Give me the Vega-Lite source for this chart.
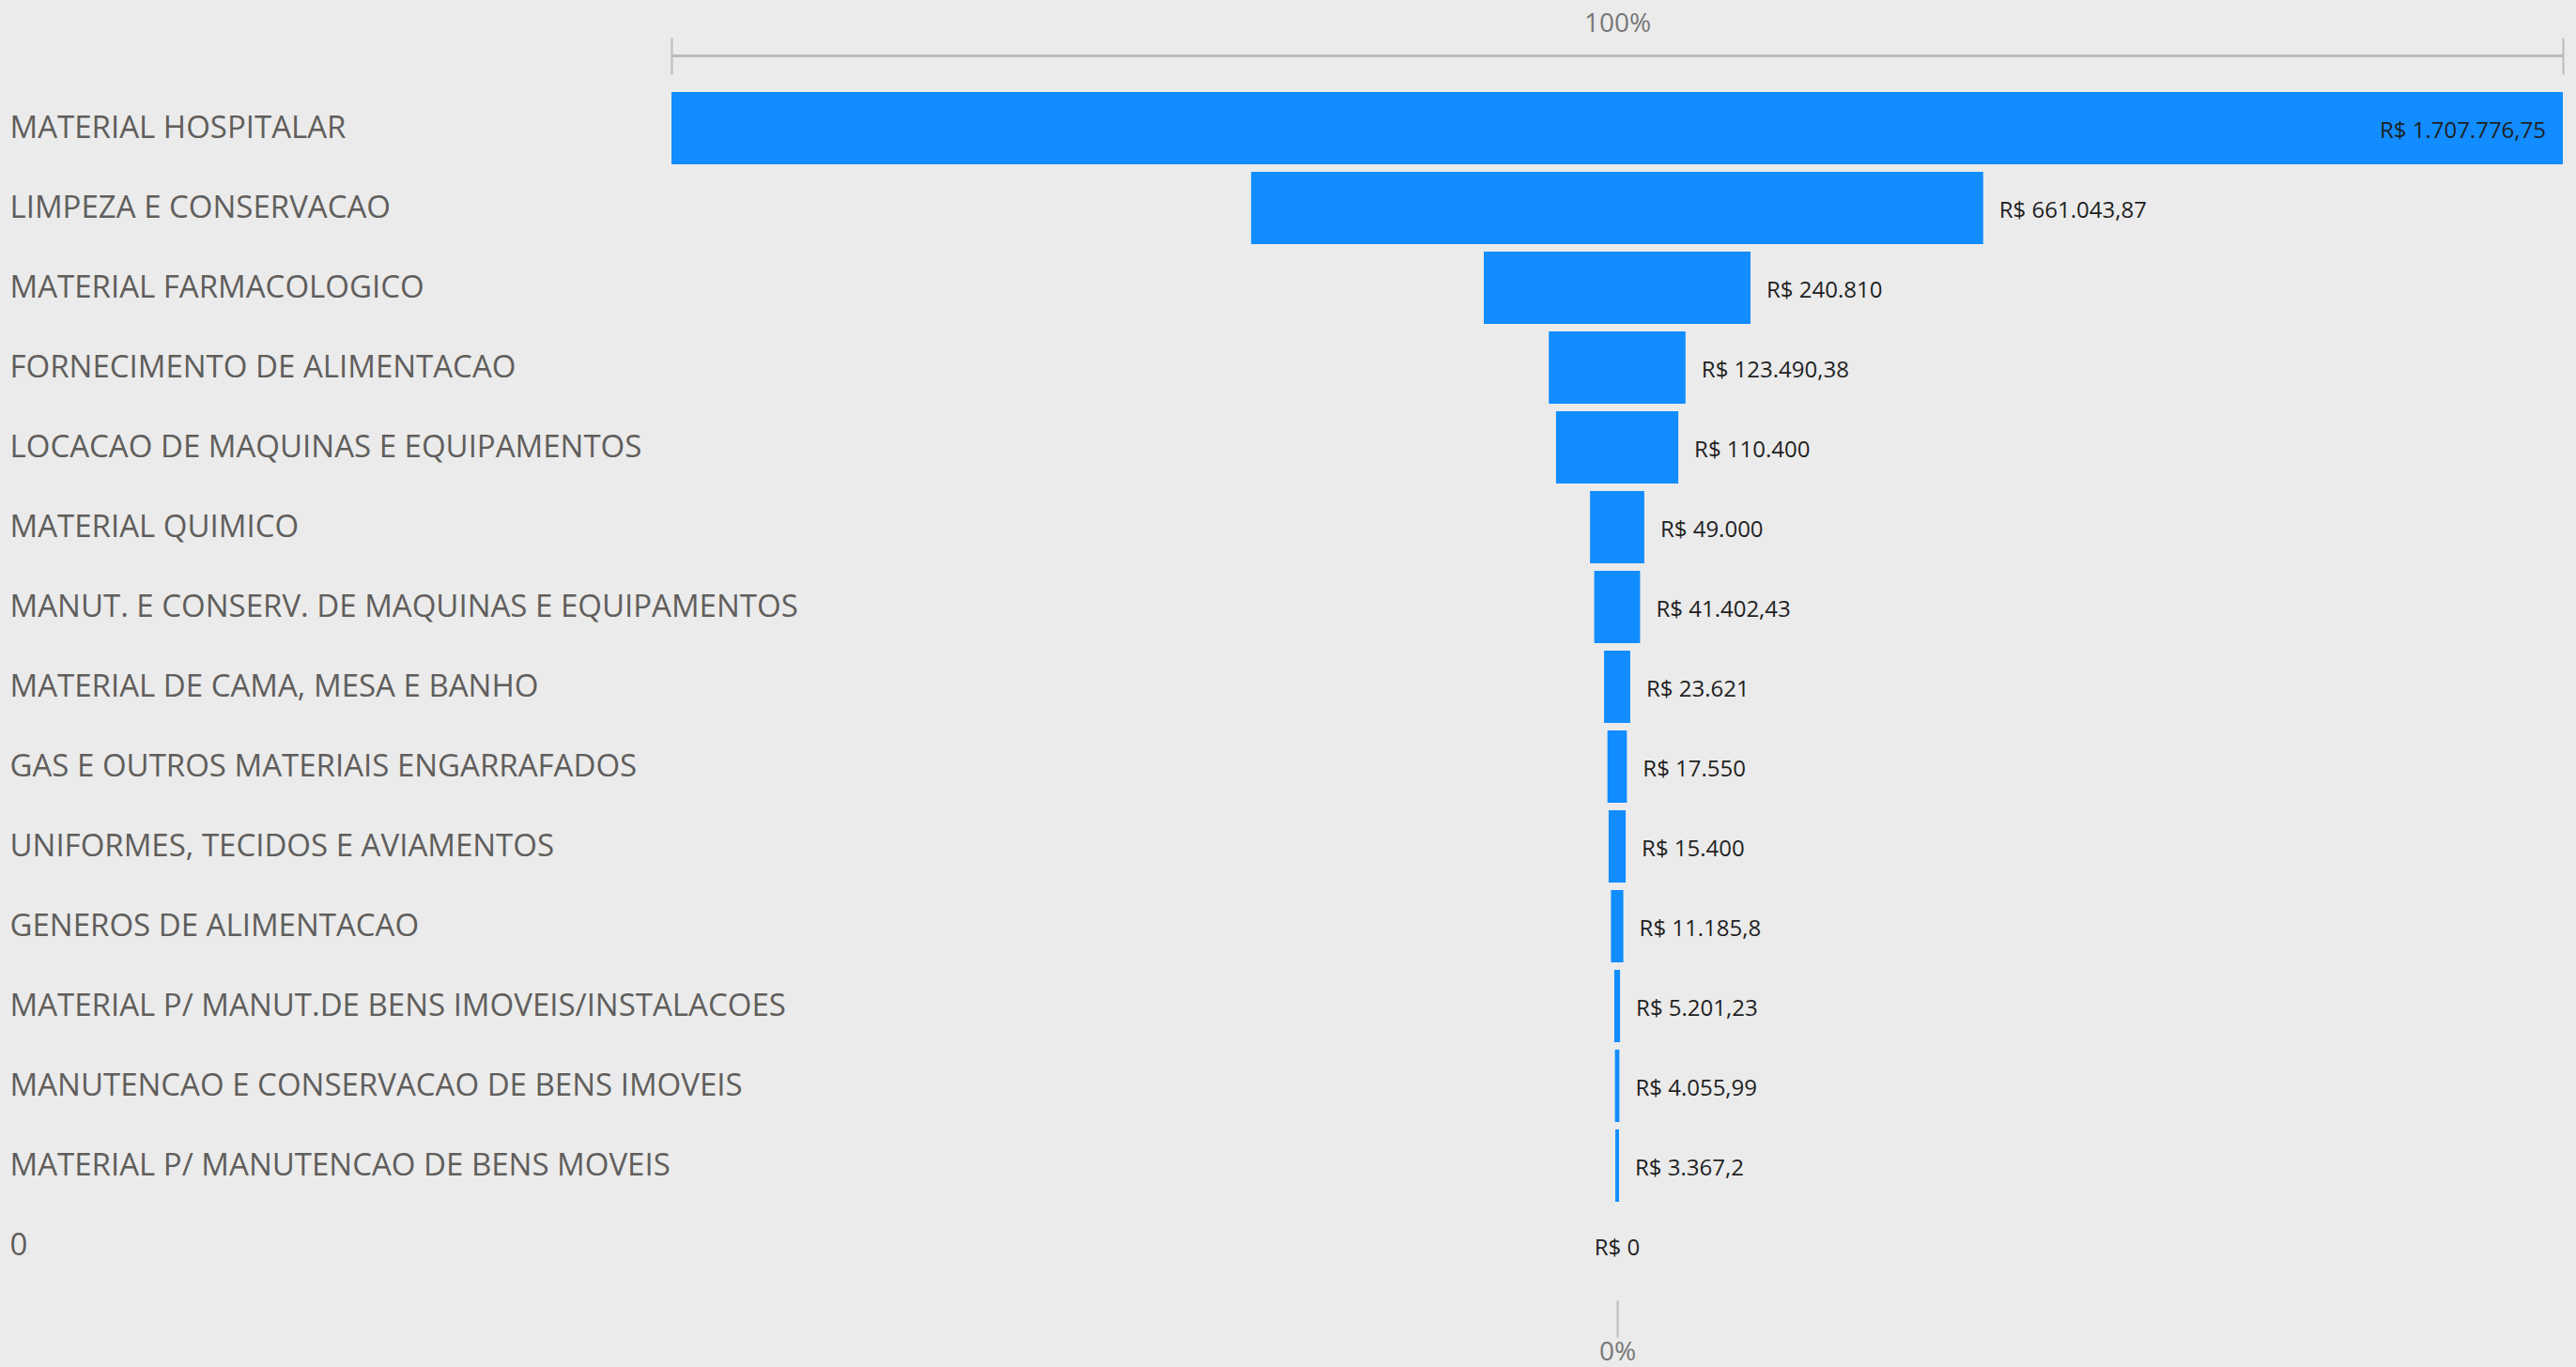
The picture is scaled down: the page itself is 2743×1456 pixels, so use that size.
{
  "$schema": "https://vega.github.io/schema/vega-lite/v6.json",
  "autosize": "none",
  "width": 2014,
  "height": 1275,
  "padding": {"left": 715, "top": 94, "right": 14, "bottom": 87},
  "background": "#ebebeb",
  "config": {"view": {"stroke": null}, "font": "Open Sans"},
  "data": {
    "values": [
      {"categoria": "MATERIAL HOSPITALAR", "valor": 1707776.75, "rotulo": "R$ 1.707.776,75"},
      {"categoria": "LIMPEZA E CONSERVACAO", "valor": 661043.87, "rotulo": "R$ 661.043,87"},
      {"categoria": "MATERIAL FARMACOLOGICO", "valor": 240810, "rotulo": "R$ 240.810"},
      {"categoria": "FORNECIMENTO DE ALIMENTACAO", "valor": 123490.38, "rotulo": "R$ 123.490,38"},
      {"categoria": "LOCACAO DE MAQUINAS E EQUIPAMENTOS", "valor": 110400, "rotulo": "R$ 110.400"},
      {"categoria": "MATERIAL QUIMICO", "valor": 49000, "rotulo": "R$ 49.000"},
      {"categoria": "MANUT. E CONSERV. DE MAQUINAS E EQUIPAMENTOS", "valor": 41402.43, "rotulo": "R$ 41.402,43"},
      {"categoria": "MATERIAL DE CAMA, MESA E BANHO", "valor": 23621, "rotulo": "R$ 23.621"},
      {"categoria": "GAS E OUTROS MATERIAIS ENGARRAFADOS", "valor": 17550, "rotulo": "R$ 17.550"},
      {"categoria": "UNIFORMES, TECIDOS E AVIAMENTOS", "valor": 15400, "rotulo": "R$ 15.400"},
      {"categoria": "GENEROS DE ALIMENTACAO", "valor": 11185.8, "rotulo": "R$ 11.185,8"},
      {"categoria": "MATERIAL P/ MANUT.DE BENS IMOVEIS/INSTALACOES", "valor": 5201.23, "rotulo": "R$ 5.201,23"},
      {"categoria": "MANUTENCAO E CONSERVACAO DE BENS IMOVEIS", "valor": 4055.99, "rotulo": "R$ 4.055,99"},
      {"categoria": "MATERIAL P/ MANUTENCAO DE BENS MOVEIS", "valor": 3367.2, "rotulo": "R$ 3.367,2"},
      {"categoria": "0", "valor": 0, "rotulo": "R$ 0"}
    ]
  },
  "encoding": {
    "y": {
      "field": "categoria",
      "type": "nominal",
      "sort": null,
      "scale": {"paddingInner": 0.094, "paddingOuter": 0.047},
      "axis": {
        "title": null,
        "ticks": false,
        "domain": false,
        "labelAlign": "left",
        "labelBaseline": "middle",
        "labelPadding": 705,
        "labelFontSize": 33,
        "labelColor": "#605e5c",
        "labelLimit": 0,
        "labelFont": "Open Sans"
      }
    }
  },
  "layer": [
    {
      "mark": {"type": "bar", "color": "#118dff"},
      "encoding": {
        "x": {
          "field": "valor",
          "type": "quantitative",
          "stack": "center",
          "scale": {"domain": [0, 1707776.75], "nice": false, "zero": false},
          "axis": {
            "orient": "bottom",
            "values": [853888.375],
            "labelExpr": "'0%'",
            "domain": false,
            "grid": false,
            "tickSize": 39,
            "tickWidth": 2,
            "tickColor": "#bcbab6",
            "offset": 16,
            "labelPadding": 2,
            "labelFontSize": 28,
            "labelColor": "#777777",
            "labelFont": "Open Sans",
            "title": null
          }
        }
      }
    },
    {
      "mark": {
        "type": "text",
        "fontSize": 24,
        "font": "Open Sans",
        "color": "#1f1f1f",
        "baseline": "middle",
        "dy": 3,
        "align": {"expr": "datum.valor == 0 ? 'center' : (datum.valor > 1000000 ? 'right' : 'left')"},
        "dx": {"expr": "datum.valor == 0 ? 0 : (datum.valor > 1000000 ? -18 : 17)"}
      },
      "encoding": {
        "x": {
          "field": "valor",
          "type": "quantitative",
          "stack": "center",
          "scale": {"domain": [0, 1707776.75], "nice": false, "zero": false},
          "axis": {
            "orient": "top",
            "values": [0, 1707776.75],
            "domain": false,
            "grid": false,
            "labels": false,
            "tickSize": 39,
            "tickWidth": 2,
            "tickColor": "#bcbab6",
            "offset": 15,
            "title": "100%",
            "titleFontSize": 28,
            "titleFontWeight": "normal",
            "titleColor": "#777777",
            "titleFont": "Open Sans",
            "titlePadding": 0
          }
        },
        "text": {"field": "rotulo", "type": "nominal"}
      }
    },
    {
      "mark": {"type": "bar", "opacity": 0},
      "encoding": {
        "x": {
          "field": "valor",
          "type": "quantitative",
          "stack": "center",
          "scale": {"domain": [0, 1707776.75], "nice": false, "zero": false},
          "axis": {
            "orient": "top",
            "values": [],
            "domain": true,
            "domainColor": "#bcbab6",
            "domainWidth": 3,
            "ticks": false,
            "labels": false,
            "grid": false,
            "offset": 35,
            "title": null
          }
        }
      }
    }
  ],
  "resolve": {"axis": {"x": "independent"}}
}
